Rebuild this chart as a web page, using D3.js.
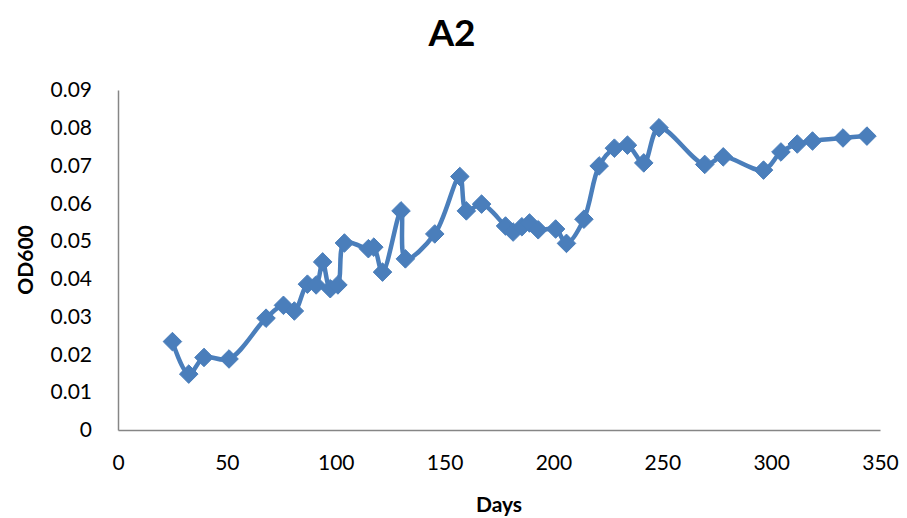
<!DOCTYPE html>
<html>
<head>
<meta charset="utf-8">
<script src="https://cdn.jsdelivr.net/npm/d3@7"></script>
<style>
  body { margin: 0; background: #fff; }
  svg text { font-family: Lato, "Open Sans", sans-serif; fill: #000; }
</style>
</head>
<body>
<div id="chart"></div>
<script>
// values
var days = [25, 32.5, 39.5, 51, 68, 76, 81, 87, 91, 94, 97.5, 101, 104, 115, 117.5, 121.5,
            130, 132, 145.5, 157, 160, 167, 178, 181.5, 185.5, 189, 193, 201, 206, 214,
            221, 228, 234, 241.5, 248.5, 269.5, 278, 296.5, 304.5, 312, 319, 333, 344];
var od600 = [0.0234, 0.0148, 0.0192, 0.0188, 0.0296, 0.0330, 0.0315, 0.0386, 0.0384, 0.0445,
             0.0374, 0.0384, 0.0495, 0.0480, 0.0484, 0.0418, 0.0580, 0.0453, 0.0519, 0.0671,
             0.0580, 0.0598, 0.0540, 0.0524, 0.0538, 0.0548, 0.0530, 0.0532, 0.0494, 0.0558,
             0.0699, 0.0746, 0.0754, 0.0707, 0.0800, 0.0703, 0.0723, 0.0688, 0.0736, 0.0757,
             0.0765, 0.0773, 0.0778];
var xTicks = [0, 50, 100, 150, 200, 250, 300, 350];
var yTicks = [0, 0.01, 0.02, 0.03, 0.04, 0.05, 0.06, 0.07, 0.08, 0.09];

var width = 907, height = 518;
var margin = {left: 118, right: 27, top: 90, bottom: 88};

var svg = d3.select("#chart").append("svg")
    .attr("width", width)
    .attr("height", height);

var data = days.map((d, i) => ({day: d, value: od600[i]}));

var xScale = d3.scaleLinear()
    .domain([0, 350])
    .range([margin.left, width - margin.right]);

var yScale = d3.scaleLinear()
    .domain([0, 0.09])
    .range([height - margin.bottom, margin.top]);

/* xAxis */
var xAxis = d3.axisBottom(xScale)
    .tickValues(xTicks)
    .tickSize(0)
    .tickPadding(25)
    .tickFormat(d3.format("d"));
var gx = svg.append("g")
    .attr("transform", `translate(0, ${height - margin.bottom})`)
    .call(xAxis);
gx.select(".domain").attr("stroke", "#868686").attr("stroke-width", 1.5);
gx.selectAll("text").style("font-size", "21px");

/* yAxis */
var yAxis = d3.axisLeft(yScale)
    .tickValues(yTicks)
    .tickSize(0)
    .tickPadding(26)
    .tickFormat(d => d === 0 ? "0" : d3.format(".2f")(d));
var gy = svg.append("g")
    .attr("transform", `translate(${margin.left}, 0)`)
    .call(yAxis);
gy.select(".domain").attr("stroke", "#868686").attr("stroke-width", 1.5);
gy.selectAll("text").style("font-size", "21px");

/* title and labels */
svg.append("text")
    .attr("x", 452).attr("y", 46)
    .attr("text-anchor", "middle")
    .style("font-size", "37px")
    .style("font-weight", "bold")
    .text("A2");

svg.append("text")
    .attr("x", (margin.left + width - margin.right) / 2)
    .attr("y", 512)
    .attr("text-anchor", "middle")
    .style("font-size", "21px")
    .style("font-weight", "bold")
    .text("Days");

svg.append("text")
    .attr("transform", `translate(33, ${(margin.top + height - margin.bottom) / 2}) rotate(-90)`)
    .attr("text-anchor", "middle")
    .style("font-size", "21px")
    .style("font-weight", "bold")
    .text("OD600");

/* line */
var line = d3.line()
    .x(d => xScale(d.day))
    .y(d => yScale(d.value))
    .curve(d3.curveCatmullRom.alpha(0.5));

svg.append("path")
    .datum(data)
    .attr("fill", "none")
    .attr("stroke", "#4A7EBB")
    .attr("stroke-width", 4.5)
    .attr("stroke-linejoin", "round")
    .attr("d", line);

/* diamond markers */
var symbol = d3.symbol().type(d3.symbolDiamond2).size(220);
svg.selectAll(".marker")
    .data(data)
    .join("path")
    .attr("class", "marker")
    .attr("transform", d => `translate(${xScale(d.day)}, ${yScale(d.value)})`)
    .attr("d", symbol)
    .attr("fill", "#4A7EBB")
    .attr("stroke", "#4A7EBB")
    .attr("stroke-width", 1);
</script>
</body>
</html>
